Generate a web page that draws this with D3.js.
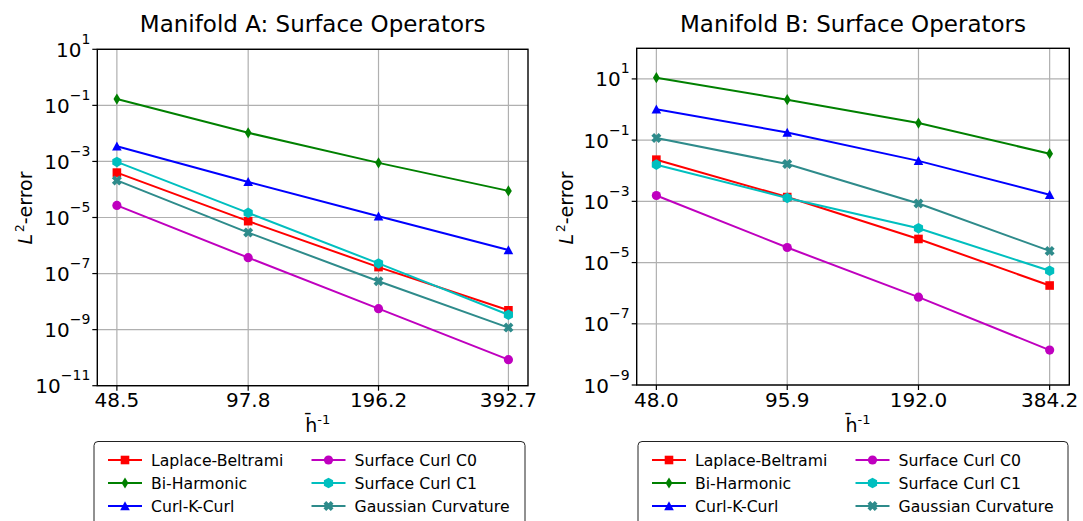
<!DOCTYPE html>
<html>
<head>
<meta charset="utf-8">
<script src="https://cdn.jsdelivr.net/npm/d3@7"></script>
<style>
  body { margin: 0; background: #fff; }
  svg { display: block; font-family: "DejaVu Sans", sans-serif; }
</style>
</head>
<body>
<svg id="chart" width="1083" height="521"></svg>
<script>
// series names, same order in both panels
const seriesNames = ["Laplace-Beltrami", "Bi-Harmonic", "Curl-K-Curl",
  "Surface Curl C0", "Surface Curl C1", "Gaussian Curvature"];

// Manifold A
const hInvA = [48.5, 97.8, 196.2, 392.7];
const laplaceA = [4.0e-4, 7.4e-6, 1.7e-7, 4.9e-9];
const biharmA = [1.68e-1, 1.05e-2, 8.9e-4, 8.9e-5];
const curlKA = [3.5e-3, 1.86e-4, 1.1e-5, 6.9e-7];
const curlC0A = [2.7e-5, 3.7e-7, 5.6e-9, 8.5e-11];
const curlC1A = [9.6e-4, 1.47e-5, 2.3e-7, 3.4e-9];
const gaussA = [2.1e-4, 2.9e-6, 5.3e-8, 1.18e-9];
const yTickExpA = [1, -1, -3, -5, -7, -9, -11];

// Manifold B
const hInvB = [48.0, 95.9, 192.0, 384.2];
const laplaceB = [2.3e-2, 1.38e-3, 5.9e-5, 1.78e-6];
const biharmB = [11, 2.1, 0.36, 0.036];
const curlKB = [1.02, 0.178, 0.021, 1.65e-3];
const curlC0B = [1.55e-3, 3.1e-5, 7.4e-7, 1.38e-8];
const curlC1B = [1.58e-2, 1.29e-3, 1.32e-4, 5.4e-6];
const gaussB = [0.117, 0.0166, 8.5e-4, 2.4e-5];
const yTickExpB = [1, -1, -3, -5, -7, -9];

const colors = ["#ff0000", "#008000", "#0000ff", "#bf00bf", "#00bfbf", "#2e8b8b"];
const markers = ["square", "diamond", "triangle", "circle", "hexagon", "x"];

const svg = d3.select("#chart");

// marker paths centred on 0,0
function markerPath(kind) {
  switch (kind) {
    case "square": return "M-4.3,-4.3H4.3V4.3H-4.3Z";
    case "diamond": return "M0,-5.6L3.4,0L0,5.6L-3.4,0Z";
    case "triangle": return "M0,-4.8L4.8,4.2L-4.8,4.2Z";
    case "circle": return "M4.6,0A4.6,4.6 0 1 1 -4.6,0A4.6,4.6 0 1 1 4.6,0Z";
    case "hexagon": {
      const r = 5.3;
      return d3.range(6).map((i) => {
        const a = Math.PI / 2 + i * Math.PI / 3;
        return (i ? "L" : "M") + (r * Math.cos(a)).toFixed(2) + "," + (r * Math.sin(a)).toFixed(2);
      }).join("") + "Z";
    }
    case "x": {
      // filled X like matplotlib 'X'
      const a = 5, w = 2.7;
      return "M" + (-a) + "," + (-a + w) + "L" + (-a + w) + "," + (-a) + "L0," + (-w) +
        "L" + (a - w) + "," + (-a) + "L" + a + "," + (-a + w) + "L" + w + ",0" +
        "L" + a + "," + (a - w) + "L" + (a - w) + "," + a + "L0," + w +
        "L" + (-a + w) + "," + a + "L" + (-a) + "," + (a - w) + "L" + (-w) + ",0Z";
    }
  }
}

function supLabel(sel, base, sup, supSize, rise) {
  sel.append("tspan").text(base);
  sel.append("tspan").attr("dy", -rise).style("font-size", supSize + "px").text(sup);
}

function drawPanel(p) {
  const g = svg.append("g");

  const lo = p.hInv[0], hi = p.hInv[p.hInv.length - 1];
  const pad = Math.pow(hi / lo, 0.05);
  const x = d3.scaleLog().domain([lo / pad, hi * pad]).range([p.left, p.right]);
  const y = d3.scaleLog().domain(p.yDomain).range([p.bottom, p.top]);

  // grid
  g.selectAll(".gx").data(p.hInv).enter().append("line")
    .attr("x1", (d) => x(d)).attr("x2", (d) => x(d))
    .attr("y1", p.top).attr("y2", p.bottom)
    .style("stroke", "#b0b0b0").style("stroke-width", 1.2);
  g.selectAll(".gy").data(p.yTickExp).enter().append("line")
    .attr("x1", p.left).attr("x2", p.right)
    .attr("y1", (d) => y(Math.pow(10, d))).attr("y2", (d) => y(Math.pow(10, d)))
    .style("stroke", "#b0b0b0").style("stroke-width", 1.2);

  // series
  const line = d3.line().x((d) => x(d[0])).y((d) => y(d[1]));
  p.series.forEach((vals, i) => {
    const pts = vals.map((v, j) => [p.hInv[j], v]);
    g.append("path").datum(pts)
      .attr("d", line)
      .style("fill", "none")
      .style("stroke", colors[i])
      .style("stroke-width", 2);
    g.selectAll(".m" + i).data(pts).enter().append("path")
      .attr("d", markerPath(markers[i]))
      .attr("transform", (d) => "translate(" + x(d[0]) + "," + y(d[1]) + ")")
      .style("fill", colors[i]);
  });

  // spines
  g.append("rect")
    .attr("x", p.left).attr("y", p.top)
    .attr("width", p.right - p.left).attr("height", p.bottom - p.top)
    .style("fill", "none").style("stroke", "#000").style("stroke-width", 1.4);

  // x ticks
  const xt = g.selectAll(".xt").data(p.hInv).enter().append("g")
    .attr("transform", (d) => "translate(" + x(d) + "," + p.bottom + ")");
  xt.append("line").attr("y2", 5).style("stroke", "#000").style("stroke-width", 1.2);
  xt.append("text").attr("y", 21.5).attr("text-anchor", "middle")
    .style("font-size", "20px").text((d) => d.toFixed(1));

  // y ticks
  const yt = g.selectAll(".yt").data(p.yTickExp).enter().append("g")
    .attr("transform", (d) => "translate(" + p.left + "," + y(Math.pow(10, d)) + ")");
  yt.append("line").attr("x2", -5).style("stroke", "#000").style("stroke-width", 1.2);
  yt.append("text").attr("x", -7).attr("y", 7.5).attr("text-anchor", "end")
    .style("font-size", "20px")
    .each(function (d) {
      supLabel(d3.select(this), "10", d < 0 ? "\u2212" + (-d) : String(d), 14, 13);
    });

  const cx = (p.left + p.right) / 2;

  // title
  g.append("text").attr("x", cx).attr("y", 32).attr("text-anchor", "middle")
    .style("font-size", "23px").text(p.title);

  // x label
  const xl = g.append("text").attr("x", cx + 5).attr("y", 431.5).attr("text-anchor", "middle")
    .style("font-size", "19px");
  supLabel(xl, "h\u0304", "-1", 13, 8);

  // y label
  const yl = g.append("text")
    .attr("transform", "translate(" + p.ylabelX + ",208) rotate(-90)")
    .attr("text-anchor", "middle").style("font-size", "19px");
  yl.append("tspan").style("font-style", "italic").text("L");
  yl.append("tspan").attr("dx", 2).attr("dy", -8).style("font-size", "12px").text("2");
  yl.append("tspan").attr("dy", 8).text("-error");

  // legend
  const lg = g.append("g");
  lg.append("rect")
    .attr("x", p.legX).attr("y", 441.5)
    .attr("width", p.legW).attr("height", 100).attr("rx", 4)
    .style("fill", "#fff").style("stroke", "#222").style("stroke-width", 1);
  seriesNames.forEach((name, i) => {
    const col = Math.floor(i / 3), row = i % 3;
    const gx = p.legX + 14 + col * p.legCol;
    const gy = 460 + row * 23;
    const item = lg.append("g").attr("transform", "translate(" + gx + "," + gy + ")");
    item.append("line").attr("x1", 0).attr("x2", 34)
      .style("stroke", colors[i]).style("stroke-width", 2);
    item.append("path").attr("d", markerPath(markers[i]))
      .attr("transform", "translate(17,0)").style("fill", colors[i]);
    item.append("text").attr("x", 43).attr("y", 5.6)
      .style("font-size", "15.7px").text(name);
  });
}

drawPanel({
  title: "Manifold A: Surface Operators",
  hInv: hInvA,
  series: [laplaceA, biharmA, curlKA, curlC0A, curlC1A, gaussA],
  yDomain: [1e-11, 1e1],
  yTickExp: yTickExpA,
  left: 97.3, right: 528, top: 49.3, bottom: 385.7,
  ylabelX: 32, legX: 94, legW: 431, legCol: 203.5
});

drawPanel({
  title: "Manifold B: Surface Operators",
  hInv: hInvB,
  series: [laplaceB, biharmB, curlKB, curlC0B, curlC1B, gaussB],
  yDomain: [1e-9, 1e2],
  yTickExp: yTickExpB,
  left: 636.7, right: 1069.3, top: 48.3, bottom: 385,
  ylabelX: 573, legX: 638, legW: 430, legCol: 203.5
});
</script>
</body>
</html>
